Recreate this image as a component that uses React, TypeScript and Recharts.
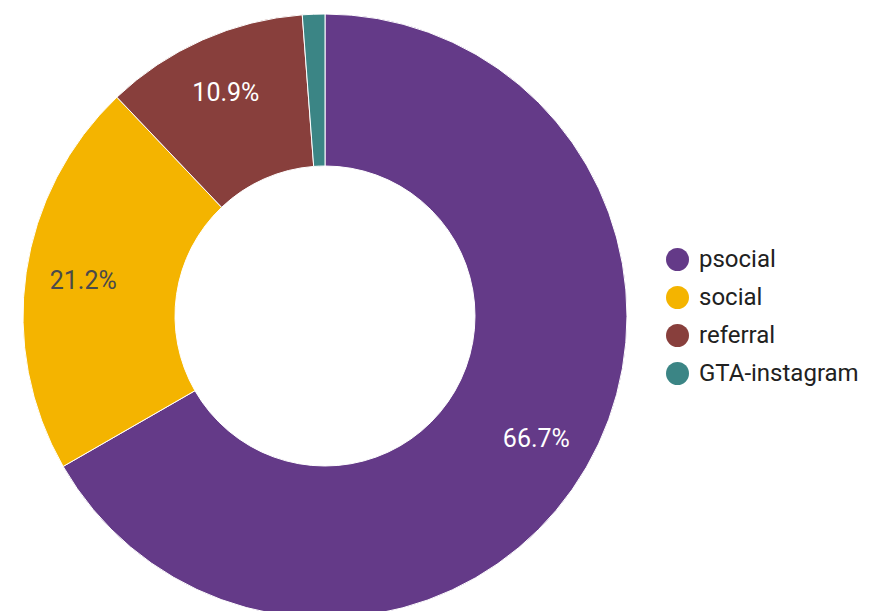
import React from 'react';
import { PieChart, Pie, Cell, Legend } from 'recharts';

const sources = ['psocial', 'social', 'referral', 'GTA-instagram'];
const shares = [66.7, 21.2, 10.9, 1.2];
const colors = ['#643a88', '#f4b400', '#883f3c', '#3b8585'];
const labelColors = ['#ffffff', '#4a4a4a', '#ffffff', '#ffffff'];

const data = sources.map((name, i) => ({ name, value: shares[i] }));

const RAD = Math.PI / 180;

function renderLabel(props: any) {
  const { cx, cy, midAngle, innerRadius, outerRadius, percent, index } = props;
  if (percent < 0.05) return null;
  const r = innerRadius + (outerRadius - innerRadius) * 0.62;
  const x = cx + r * Math.cos(-midAngle * RAD);
  const y = cy + r * Math.sin(-midAngle * RAD);
  return (
    <text
      x={x}
      y={y}
      fill={labelColors[index]}
      textAnchor="middle"
      dominantBaseline="central"
      fontSize={25}
      fontFamily="Roboto"
    >
      {(percent * 100).toFixed(1)}%
    </text>
  );
}

function LegendBox() {
  return (
    <div style={{ fontFamily: 'Roboto', fontSize: 24, color: '#212121' }}>
      {data.map((d, i) => (
        <div key={d.name} style={{ display: 'flex', alignItems: 'center', height: 38 }}>
          <span
            style={{
              width: 23,
              height: 23,
              borderRadius: '50%',
              background: colors[i],
              marginRight: 10,
              display: 'inline-block',
            }}
          />
          <span>{d.name}</span>
        </div>
      ))}
    </div>
  );
}

export default function App() {
  return (
    <PieChart width={879} height={603} margin={{ top: 0, right: 0, bottom: 0, left: 0 }}>
      <Pie
        data={data}
        dataKey="value"
        nameKey="name"
        cx={317}
        cy={308}
        innerRadius={150}
        outerRadius={302}
        startAngle={90}
        endAngle={-270}
        stroke="#ffffff"
        strokeWidth={1}
        label={renderLabel}
        labelLine={false}
        isAnimationActive={false}
      >
        {data.map((d, i) => (
          <Cell key={d.name} fill={colors[i]} />
        ))}
      </Pie>
      <Legend
        layout="vertical"
        verticalAlign="top"
        align="right"
        content={<LegendBox />}
        wrapperStyle={{ left: 658, top: 232, width: 220 }}
      />
    </PieChart>
  );
}
